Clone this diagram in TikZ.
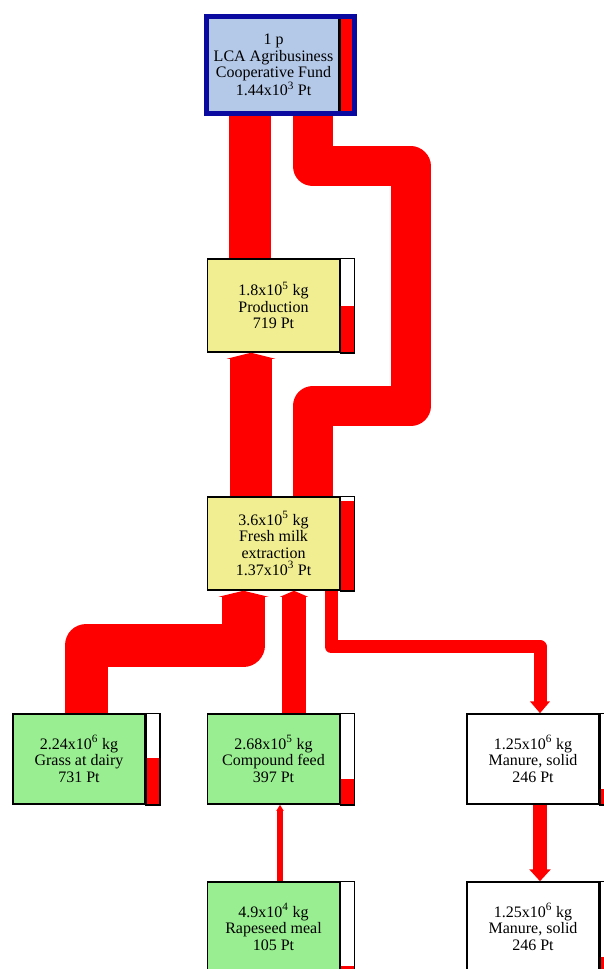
\documentclass[tikz,border=0pt]{standalone}
\usepackage{fontspec}
\setmainfont{Liberation Serif}
\usepackage{tikz}
\usetikzlibrary{arrows.meta, positioning, calc}
\usepackage{xcolor}
\definecolor{fundblue}{RGB}{180, 200, 232}
\definecolor{fundframe}{RGB}{10, 10, 160}
\definecolor{procyellow}{RGB}{240, 238, 145}
\definecolor{feedgreen}{RGB}{152, 238, 144}
\definecolor{flowred}{RGB}{255, 0, 0}

\tikzset{
    procbox/.style={draw, line width=1.5pt, minimum width=132pt, minimum height=93pt, inner sep=0pt, align=center, font=\fontsize{16}{16.7}\selectfont},
    flow/.style={draw=flowred, line width=#1, line join=round},
    intip/.style={-{Triangle[length=6pt, width=0pt 1.15]}},
    outtip/.style={-{Triangle[length=12pt, width=0pt 1.5]}}
}

\begin{document}
\begin{tikzpicture}[x=1pt, y=-1pt]
    \useasboundingbox (0,0) rectangle (604,969);

    \node[procbox, fill=fundblue, minimum width=131pt, minimum height=94pt] (fund) at (273.5,65) {1 p\\LCA Agribusiness\\Cooperative Fund\\1.44x10\textsuperscript{3} Pt};
    \node[procbox, fill=procyellow] (prod) at (273.5,305.5) {1.8x10\textsuperscript{5} kg\\Production\\719 Pt};
    \node[procbox, fill=procyellow] (milk) at (273.5,543.5) {3.6x10\textsuperscript{5} kg\\Fresh milk\\extraction\\1.37x10\textsuperscript{3} Pt};
    \node[procbox, fill=feedgreen, minimum height=90pt] (grass) at (79,759) {2.24x10\textsuperscript{6} kg\\Grass at dairy\\731 Pt};
    \node[procbox, fill=feedgreen, minimum height=90pt] (feed) at (273.5,759) {2.68x10\textsuperscript{5} kg\\Compound feed\\397 Pt};
    \node[procbox, fill=white, minimum height=90pt] (manure) at (533,759) {1.25x10\textsuperscript{6} kg\\Manure, solid\\246 Pt};
    \node[procbox, fill=feedgreen, minimum height=90pt] (rapeseed) at (273.5,927) {4.9x10\textsuperscript{4} kg\\Rapeseed meal\\105 Pt};
    \node[procbox, fill=white, minimum height=90pt] (manureb) at (533,927) {1.25x10\textsuperscript{6} kg\\Manure, solid\\246 Pt};

    % flows
    \draw[flow=42pt] ([xshift=-23.5pt]prod.north) -- ([xshift=-23.5pt]fund.south);
    \draw[flow=40pt] ([xshift=39pt]milk.north) -- ++(0,-90) -| ++(98,-240) -| ([xshift=39pt]fund.south);
    \draw[flow=42pt, intip] ([xshift=-22.5pt]milk.north) -- ([xshift=-22.5pt]prod.south);
    \draw[flow=43pt, intip] ([xshift=7pt]grass.north) -- ++(0,-68) -| ([xshift=-30pt]milk.south);
    \draw[flow=24pt, intip] ([xshift=20.5pt]feed.north) -- ([xshift=20.5pt]milk.south);
    \draw[flow=13pt, outtip] ([xshift=57.5pt]milk.south) -- ++(0,56) -| ([xshift=7pt]manure.north);
    \draw[flow=6pt, intip] ([xshift=6.5pt]rapeseed.north) -- ([xshift=6.5pt]feed.south);
    \draw[flow=14pt, outtip] ([xshift=7pt]manure.south) -- ([xshift=7pt]manureb.north);

    % impact bars
    \foreach \nm/\amt in {fund/1, prod/0.5, milk/0.95, grass/0.51, feed/0.28, manure/0.17, rapeseed/0.07, manureb/0.17} {
        \fill[white] (\nm.north east) rectangle ([xshift=14pt]\nm.south east);
        \fill[flowred] (\nm.south east) rectangle ($([xshift=14pt]\nm.south east)!\amt!([xshift=14pt]\nm.north east)$);
        \draw[line width=1.5pt] (\nm.north east) rectangle ([xshift=14pt]\nm.south east);
    }
    \draw[fundframe, line width=5pt] ([shift={(-1,-1)}]fund.north west) rectangle ([shift={(15,1)}]fund.south east);
\end{tikzpicture}
\end{document}
